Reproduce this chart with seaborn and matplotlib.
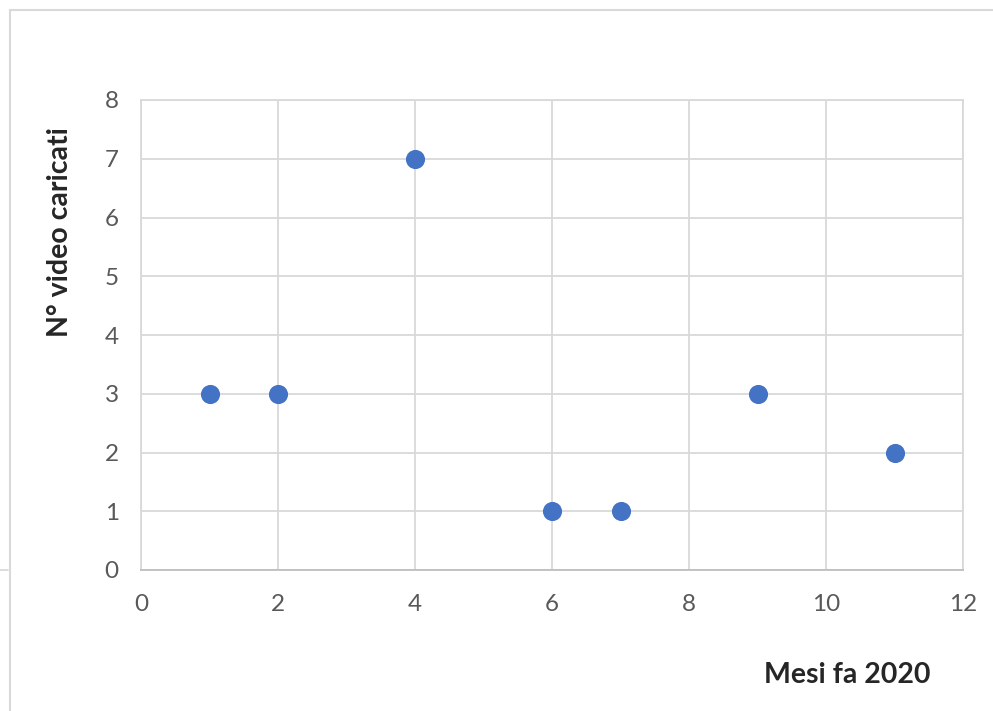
import numpy as np
import pandas as pd
import matplotlib
matplotlib.use('Agg')
import matplotlib.pyplot as plt
import seaborn as sns
from matplotlib.patches import Rectangle
from matplotlib.lines import Line2D

# dati
mesi = [1, 2, 4, 6, 7, 9, 11]
video = [3, 3, 7, 1, 1, 3, 2]

df = pd.DataFrame({'mesi': mesi, 'video': video})

sns.set_style('white')
plt.rcParams['font.family'] = ['Lato', 'Liberation Sans', 'DejaVu Sans']

fig = plt.figure(figsize=(9.93, 7.11), dpi=100)
ax = fig.add_axes([141/993, 141/711, (963-141)/993, (570-100)/711])

grid_col = '#d9d9d9'
sns.scatterplot(data=df, x='mesi', y='video', ax=ax, color='#4472C4',
                s=190, edgecolor='#4472C4', linewidth=0, zorder=3)

ax.set_xlim(0, 12)
ax.set_ylim(0, 8)
ax.set_xticks(range(0, 13, 2))
ax.set_yticks(range(0, 9))
ax.grid(True, color=grid_col, linewidth=1.3)
ax.set_axisbelow(True)
for sp in ax.spines.values():
    sp.set_color(grid_col)
    sp.set_linewidth(1.3)
ax.spines['bottom'].set_color('#bfbfbf')
ax.tick_params(axis='both', length=0, labelsize=17.5, labelcolor='#595959')
ax.tick_params(axis='x', pad=17)
ax.tick_params(axis='y', pad=16)
ax.set_xlabel('')
ax.set_ylabel('')

fig.text(60/993, 1 - 232/711, 'N° video caricati', rotation=90, ha='center',
         va='center', fontsize=20.5, fontweight='bold')
fig.text(847/993, 1 - 675/711, 'Mesi fa 2020', ha='center', va='center',
         fontsize=20.5, fontweight='bold')

# bordo dell'area del grafico
fig.patches.append(Rectangle((10/993, -0.1), 1.1, 1 - 10/711 + 0.1,
                             transform=fig.transFigure, fill=False,
                             edgecolor=grid_col, linewidth=1.5))
fig.lines.append(Line2D([0, 8/993], [1 - 570/711, 1 - 570/711],
                        transform=fig.transFigure, color=grid_col, linewidth=1.3))

fig.savefig('out.png', dpi=100)
